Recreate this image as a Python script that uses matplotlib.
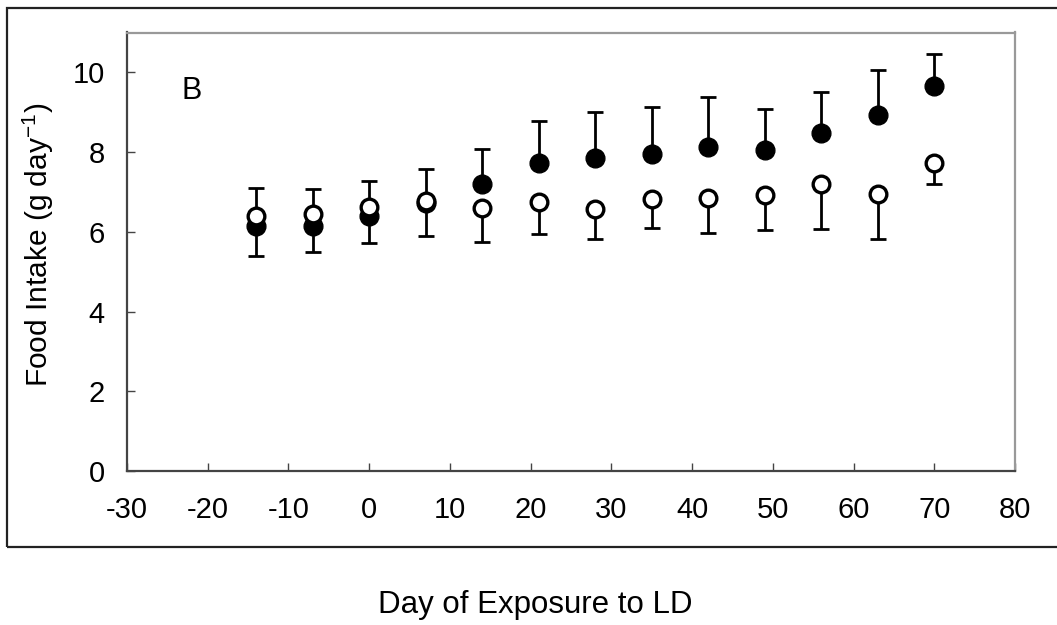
import matplotlib
matplotlib.use("Agg")
import matplotlib.pyplot as plt
from matplotlib.patches import Rectangle

plt.rcParams['font.family'] = ['Liberation Sans', 'DejaVu Sans']
plt.rcParams['mathtext.fontset'] = 'custom'
plt.rcParams['mathtext.rm'] = 'Liberation Sans'
plt.rcParams['axes.unicode_minus'] = False

# Days relative to transfer to LD
days = [-14, -7, 0, 7, 14, 21, 28, 35, 42, 49, 56, 63, 70]

# Filled symbols: mean food intake and upper error
filled_mean = [6.15, 6.15, 6.40, 6.73, 7.21, 7.73, 7.86, 7.94, 8.13, 8.06, 8.47, 8.92, 9.65]
filled_err = [0.96, 0.93, 0.88, 0.85, 0.87, 1.05, 1.15, 1.19, 1.26, 1.03, 1.03, 1.15, 0.82]

# Open symbols: mean food intake and lower error
open_mean = [6.40, 6.44, 6.63, 6.78, 6.59, 6.75, 6.57, 6.82, 6.86, 6.93, 7.19, 6.96, 7.73]
open_err = [1.00, 0.94, 0.92, 0.88, 0.84, 0.81, 0.74, 0.73, 0.88, 0.89, 1.11, 1.13, 0.52]

x_ticks = [-30, -20, -10, 0, 10, 20, 30, 40, 50, 60, 70, 80]
y_ticks = [0, 2, 4, 6, 8, 10]

fig = plt.figure(figsize=(10.57, 6.25), dpi=100)
ax = fig.add_axes([127 / 1057, 1 - 471 / 625, (1015 - 127) / 1057, (471 - 32.5) / 625])

# outer frame around the plot panel
fig.patches.append(Rectangle((7 / 1057, 1 - 547 / 625), 1.2, (547 - 8) / 625,
                             transform=fig.transFigure, fill=False,
                             edgecolor='#222222', linewidth=1.6))

zero = [0] * len(days)
ax.errorbar(days, filled_mean, yerr=[zero, filled_err], fmt='none', ecolor='black',
            elinewidth=2.0, capsize=6, capthick=2.0, zorder=2)
ax.plot(days, filled_mean, 'o', ms=13.5, mfc='black', mec='black', zorder=3)
ax.errorbar(days, open_mean, yerr=[open_err, zero], fmt='none', ecolor='black',
            elinewidth=2.0, capsize=6, capthick=2.0, zorder=4)
ax.plot(days, open_mean, 'o', ms=12.0, mfc='white', mec='black', mew=2.4, zorder=5)

ax.set_xlim(-30, 80)
ax.set_ylim(0, 11)
ax.set_xticks(x_ticks)
ax.set_yticks(y_ticks)
ax.tick_params(direction='in', length=6, width=1.0, color='#444444',
               labelsize=21, labelcolor='black')
ax.tick_params(axis='y', pad=16)
ax.tick_params(axis='x', pad=18)

for side in ('left', 'bottom'):
    ax.spines[side].set_color('#444444')
    ax.spines[side].set_linewidth(1.6)
for side in ('top', 'right'):
    ax.spines[side].set_color('#999999')
    ax.spines[side].set_linewidth(1.6)

ax.text(-23.3, 9.33, 'B', fontsize=22, ha='left', va='baseline')

fig.text(535 / 1057, 1 - 613 / 625, 'Day of Exposure to LD', fontsize=22.5,
         ha='center', va='baseline')
fig.text(38 / 1057, 1 - 245 / 625, r'Food Intake (g day$^{\mathregular{-1}}$)', fontsize=21.5,
         rotation=90, ha='center', va='center')

fig.savefig('out.png', dpi=100)
